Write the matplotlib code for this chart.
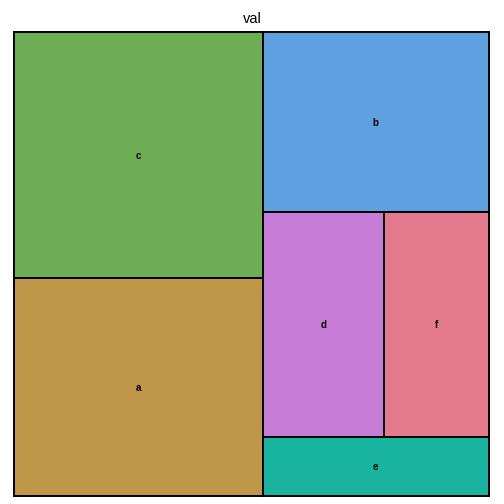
import matplotlib
matplotlib.use("Agg")
import matplotlib.pyplot as plt
from matplotlib.patches import Rectangle

plt.rcParams["font.family"] = ["Liberation Sans", "DejaVu Sans"]

labels = ["c", "a", "b", "d", "f", "e"]
values = [27.8, 24.6, 18.5, 12.4, 10.7, 6.1]
colors = ["#6DAE55", "#C09648", "#5EA0E0", "#C77CD8", "#E47A8E", "#1AB5A0"]

# layout groups: left column, then top row, middle row, bottom row on the right
left_col = ["c", "a"]
right_rows = [["b"], ["d", "f"], ["e"]]

val = dict(zip(labels, values))
col = dict(zip(labels, colors))
total = sum(values)


def layout():
    rects = {}
    # left column spans full height
    w_left = sum(val[k] for k in left_col) / total
    y = 1.0
    for k in left_col:
        h = val[k] / total / w_left
        rects[k] = (0.0, y - h, w_left, h)
        y -= h
    # right part split in rows
    w_right = 1.0 - w_left
    y = 1.0
    for row in right_rows:
        h = sum(val[k] for k in row) / total / w_right
        x = w_left
        for k in row:
            w = val[k] / total / h
            rects[k] = (x, y - h, w, h)
            x += w
        y -= h
    return rects


fig = plt.figure(figsize=(5.04, 5.04), dpi=100)
ax = fig.add_axes([14 / 504, 8 / 504, 475 / 504, 464 / 504])
ax.set_xlim(0, 1)
ax.set_ylim(0, 1)
ax.axis("off")

for k, (x, y, w, h) in layout().items():
    ax.add_patch(Rectangle((x, y), w, h, facecolor=col[k], edgecolor="black",
                           linewidth=1.4, clip_on=False))
    ax.text(x + w / 2, y + h / 2, k, ha="center", va="center_baseline",
            fontsize=7, fontweight="bold", color="black")

fig.text(0.5, 1 - 19 / 504, "val", ha="center", va="center", fontsize=10.5)

fig.savefig("out.png", dpi=100)
